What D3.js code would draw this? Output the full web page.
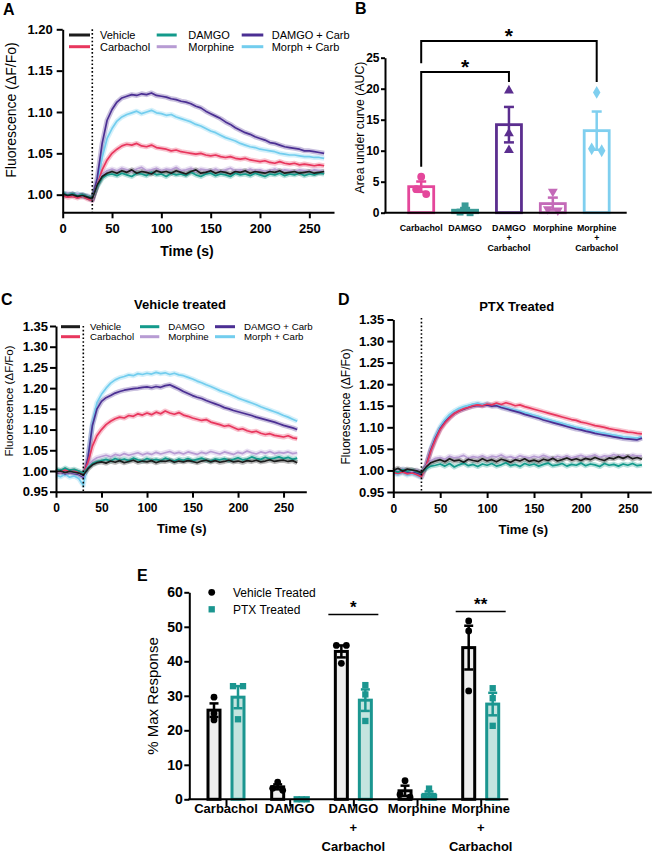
<!DOCTYPE html>
<html><head><meta charset="utf-8">
<script src="https://cdn.jsdelivr.net/npm/d3@7"></script>
<style>
body{margin:0;background:#fff}
svg{display:block}
text{font-family:"Liberation Sans",Arial,Helvetica,sans-serif;fill:#000}
</style></head>
<body><svg id="fig" width="652" height="853"></svg>
<script>
// ---------------- DATA ----------------
const timeS = [0,5,10,15,20,25,30,35,40,45,50,55,60,65,70,75,80,85,90,95,100,105,110,115,120,125,130,135,140,145,150,155,160,165,170,175,180,185,190,195,200,205,210,215,220,225,230,235,240,245,250,255,260,265];
const timeTicks = [0,50,100,150,200,250];
const stimTime = 30;
const seriesNames = ["Vehicle","Carbachol","DAMGO","Morphine","DAMGO + Carb","Morph + Carb"];

// Panel A
const A_vehicle = [1.001,0.999,1.000,0.998,0.999,0.997,0.995,1.012,1.022,1.026,1.028,1.026,1.029,1.027,1.030,1.026,1.028,1.027,1.025,1.029,1.027,1.028,1.026,1.029,1.027,1.025,1.028,1.030,1.026,1.027,1.029,1.026,1.028,1.027,1.025,1.028,1.027,1.029,1.026,1.028,1.027,1.026,1.028,1.027,1.029,1.026,1.027,1.028,1.026,1.027,1.028,1.026,1.027,1.028];
const A_carbachol = [0.999,0.997,0.998,0.996,0.998,0.995,0.993,1.012,1.030,1.042,1.050,1.055,1.059,1.061,1.060,1.062,1.059,1.058,1.060,1.057,1.056,1.055,1.053,1.054,1.052,1.051,1.050,1.049,1.050,1.048,1.047,1.048,1.046,1.045,1.046,1.044,1.043,1.044,1.042,1.041,1.040,1.041,1.039,1.038,1.040,1.038,1.037,1.038,1.036,1.037,1.036,1.035,1.036,1.035];
const A_damgo = [1.002,1.000,1.001,0.999,1.000,0.998,0.996,1.010,1.020,1.024,1.025,1.023,1.026,1.024,1.022,1.026,1.025,1.023,1.027,1.024,1.025,1.022,1.026,1.024,1.025,1.023,1.027,1.024,1.022,1.025,1.026,1.023,1.025,1.024,1.022,1.026,1.024,1.025,1.023,1.026,1.024,1.022,1.025,1.024,1.026,1.023,1.025,1.024,1.026,1.023,1.025,1.024,1.026,1.025];
const A_morphine = [1.000,1.002,0.999,1.001,0.998,0.999,0.994,1.012,1.024,1.029,1.031,1.029,1.032,1.030,1.028,1.031,1.033,1.029,1.030,1.032,1.029,1.031,1.030,1.033,1.029,1.030,1.032,1.028,1.031,1.030,1.029,1.031,1.028,1.030,1.032,1.029,1.030,1.028,1.031,1.029,1.030,1.028,1.029,1.031,1.028,1.030,1.029,1.028,1.030,1.029,1.028,1.030,1.029,1.028];
const A_damgoCarb = [1.000,0.999,1.001,0.998,1.000,0.997,0.994,1.020,1.062,1.090,1.103,1.112,1.117,1.119,1.121,1.120,1.122,1.121,1.123,1.120,1.119,1.118,1.116,1.115,1.113,1.112,1.110,1.107,1.105,1.101,1.098,1.095,1.092,1.088,1.085,1.081,1.078,1.075,1.073,1.070,1.068,1.066,1.063,1.062,1.060,1.058,1.057,1.056,1.055,1.053,1.053,1.052,1.051,1.050];
const A_morphCarb = [1.002,1.000,0.999,1.001,0.998,0.997,0.993,1.015,1.045,1.068,1.080,1.089,1.094,1.097,1.099,1.101,1.098,1.100,1.102,1.099,1.098,1.096,1.097,1.094,1.092,1.090,1.088,1.085,1.083,1.080,1.077,1.075,1.072,1.069,1.067,1.065,1.062,1.060,1.058,1.057,1.055,1.054,1.053,1.052,1.050,1.049,1.048,1.048,1.047,1.046,1.046,1.045,1.045,1.044];

// Panel C (vehicle treated)
const C_vehicle = [0.998,1.000,0.996,0.999,0.997,0.995,0.990,1.005,1.015,1.020,1.022,1.019,1.024,1.021,1.025,1.020,1.023,1.026,1.021,1.024,1.022,1.025,1.020,1.024,1.023,1.026,1.021,1.024,1.022,1.025,1.023,1.020,1.024,1.026,1.022,1.025,1.021,1.023,1.026,1.022,1.024,1.021,1.025,1.023,1.026,1.022,1.024,1.027,1.023,1.025,1.026,1.023,1.025,1.020];
const C_carbachol = [1.000,0.998,1.003,0.999,1.001,0.997,0.992,1.020,1.060,1.085,1.100,1.112,1.120,1.126,1.130,1.128,1.134,1.132,1.138,1.135,1.140,1.136,1.142,1.138,1.145,1.140,1.137,1.141,1.135,1.132,1.128,1.125,1.122,1.124,1.118,1.115,1.112,1.108,1.110,1.105,1.100,1.102,1.097,1.094,1.096,1.091,1.088,1.090,1.086,1.084,1.082,1.085,1.080,1.078];
const C_damgo = [1.005,1.001,1.007,1.002,1.004,1.000,0.995,1.008,1.018,1.022,1.025,1.028,1.024,1.030,1.026,1.029,1.025,1.031,1.027,1.024,1.030,1.026,1.028,1.025,1.031,1.027,1.024,1.029,1.026,1.030,1.025,1.028,1.031,1.026,1.024,1.029,1.027,1.030,1.025,1.028,1.032,1.027,1.029,1.034,1.030,1.028,1.033,1.029,1.031,1.034,1.030,1.033,1.028,1.031];
const C_morphine = [0.996,0.999,0.995,0.998,0.996,0.994,0.988,1.010,1.025,1.032,1.035,1.038,1.034,1.040,1.037,1.042,1.038,1.041,1.044,1.039,1.043,1.040,1.045,1.041,1.044,1.047,1.042,1.045,1.041,1.046,1.043,1.040,1.045,1.042,1.047,1.044,1.041,1.046,1.043,1.040,1.045,1.042,1.048,1.044,1.041,1.046,1.043,1.047,1.042,1.045,1.043,1.046,1.042,1.044];
const C_damgoCarb = [0.995,0.998,0.993,0.997,0.994,0.992,0.985,1.030,1.110,1.150,1.168,1.177,1.182,1.188,1.192,1.195,1.197,1.199,1.200,1.202,1.203,1.201,1.204,1.202,1.206,1.208,1.203,1.198,1.192,1.187,1.182,1.178,1.175,1.170,1.166,1.162,1.158,1.153,1.150,1.146,1.143,1.140,1.137,1.134,1.130,1.127,1.124,1.121,1.118,1.114,1.110,1.107,1.104,1.100];
const C_morphCarb = [0.990,0.986,0.992,0.985,0.988,0.982,0.965,1.025,1.115,1.165,1.185,1.200,1.212,1.220,1.225,1.228,1.232,1.230,1.235,1.233,1.236,1.234,1.238,1.235,1.237,1.233,1.236,1.232,1.230,1.226,1.222,1.217,1.213,1.208,1.204,1.199,1.194,1.190,1.186,1.181,1.176,1.172,1.168,1.164,1.160,1.155,1.151,1.147,1.143,1.139,1.134,1.130,1.125,1.120];

// Panel D (PTX treated)
const D_vehicle = [1.000,1.005,0.998,1.003,1.001,0.999,0.995,1.008,1.018,1.022,1.025,1.020,1.027,1.022,1.024,1.019,1.026,1.023,1.021,1.027,1.022,1.025,1.020,1.026,1.023,1.019,1.025,1.022,1.027,1.021,1.024,1.020,1.026,1.023,1.028,1.022,1.025,1.029,1.024,1.027,1.023,1.028,1.025,1.030,1.026,1.023,1.029,1.027,1.032,1.028,1.033,1.027,1.030,1.026];
const D_carbachol = [0.995,0.993,0.996,0.992,0.994,0.990,0.985,1.010,1.045,1.072,1.095,1.110,1.122,1.132,1.138,1.143,1.146,1.150,1.152,1.150,1.154,1.152,1.156,1.153,1.157,1.154,1.150,1.152,1.148,1.145,1.142,1.139,1.136,1.133,1.130,1.127,1.124,1.121,1.118,1.116,1.112,1.110,1.107,1.104,1.102,1.100,1.097,1.095,1.093,1.091,1.089,1.088,1.086,1.085];
const D_damgo = [1.000,0.996,1.002,0.998,1.001,0.997,0.994,1.004,1.010,1.012,1.015,1.010,1.016,1.008,1.013,1.017,1.011,1.014,1.009,1.015,1.012,1.016,1.010,1.013,1.018,1.011,1.014,1.009,1.016,1.012,1.015,1.010,1.014,1.017,1.011,1.013,1.016,1.010,1.014,1.012,1.017,1.011,1.015,1.013,1.009,1.016,1.012,1.014,1.010,1.015,1.012,1.016,1.011,1.013];
const D_morphine = [1.002,0.999,1.004,1.000,0.998,1.001,0.996,1.010,1.022,1.028,1.030,1.026,1.033,1.029,1.031,1.035,1.028,1.032,1.030,1.034,1.029,1.033,1.031,1.036,1.030,1.032,1.028,1.034,1.031,1.029,1.033,1.030,1.035,1.031,1.028,1.033,1.030,1.034,1.029,1.032,1.035,1.031,1.033,1.036,1.030,1.034,1.032,1.037,1.033,1.035,1.031,1.036,1.033,1.034];
const D_damgoCarb = [0.998,0.996,0.999,0.995,0.997,0.994,0.990,1.012,1.048,1.075,1.097,1.112,1.123,1.132,1.138,1.142,1.146,1.149,1.151,1.150,1.152,1.149,1.150,1.146,1.143,1.140,1.137,1.134,1.130,1.127,1.124,1.121,1.117,1.114,1.111,1.108,1.105,1.102,1.099,1.096,1.094,1.091,1.089,1.086,1.084,1.082,1.080,1.078,1.076,1.074,1.073,1.072,1.071,1.075];
const D_morphCarb = [0.993,0.990,0.994,0.989,0.992,0.988,0.983,1.012,1.050,1.080,1.102,1.118,1.130,1.138,1.144,1.148,1.151,1.154,1.156,1.153,1.155,1.151,1.152,1.148,1.146,1.143,1.140,1.137,1.134,1.131,1.128,1.125,1.121,1.118,1.115,1.112,1.109,1.106,1.103,1.100,1.098,1.095,1.093,1.090,1.088,1.086,1.084,1.082,1.080,1.078,1.077,1.076,1.075,1.078];

const fluorTicksA = [1.00,1.05,1.10,1.15,1.20];
const fluorTicksCD = [0.95,1.00,1.05,1.10,1.15,1.20,1.25,1.30,1.35];

// Panel B (AUC)
const aucCategories = ["Carbachol","DAMGO","DAMGO + Carbachol","Morphine","Morphine + Carbachol"];
const aucCarbachol = [5.8,3.8,3.0];
const aucDAMGO = [1.1,0.1,0.0];
const aucDAMGOCarb = [19.7,12.8,10.1];
const aucMorphine = [3.4,0.6,0.4];
const aucMorphCarb = [19.4,10.3,10.0];
const aucTicks = [0,5,10,15,20,25];

// Panel E (% max response)
const respCategories = ["Carbachol","DAMGO","DAMGO + Carbachol","Morphine","Morphine + Carbachol"];
const vehCarbachol = [29.6,24.9,23.0];
const vehDAMGO = [5.0,3.2,2.6];
const vehDAMGOCarb = [44.6,44.6,39.4];
const vehMorphine = [5.4,1.4,0.6];
const vehMorphCarb = [51.7,48.8,31.4];
const ptxCarbachol = [32.8,32.8,23.2];
const ptxDAMGO = [0,0,0];
const ptxDAMGOCarb = [33.1,30.4,22.7];
const ptxMorphine = [3.1,0.6,0.6];
const ptxMorphCarb = [32.2,29.3,21.3];
const pctTicks = [0,10,20,30,40,50,60];

const catLabelLines = [["Carbachol"],["DAMGO"],["DAMGO","+","Carbachol"],["Morphine"],["Morphine","+","Carbachol"]];

// ---------------- STYLE ----------------
const lineColors = ["#1c1c1c","#e8365d","#139a8b","#b79bd3","#4b2f93","#72cdee"];
const drawOrder = [5,4,1,3,2,0];
const aucColors = ["#e4479b","#3b9c98","#5b2e8f","#c46ab8","#7fcfef"];
const aucShapes = [d3.symbolCircle,d3.symbolSquare,d3.symbolTriangle,d3.symbolTriangle,d3.symbolDiamond];
const aucRot = [0,0,0,180,0];
const svg = d3.select("#fig");

function styleAxis(ax, fs, weight){
  ax.select(".domain").attr("stroke","#000").attr("stroke-width",2);
  ax.selectAll(".tick line").attr("stroke","#000").attr("stroke-width",2);
  ax.selectAll(".tick text").attr("font-size",fs).attr("font-weight",weight||"bold")
    .attr("font-family",'"Liberation Sans",Arial,sans-serif').attr("fill","#000");
}
function label(g,x,y,txt,fs,weight,anchor,rot){
  const t = g.append("text").attr("font-size",fs).attr("font-weight",weight||"normal")
    .attr("text-anchor",anchor||"middle");
  if(rot){ t.attr("transform",`translate(${x},${y}) rotate(${rot})`).attr("dy","0.35em"); }
  else { t.attr("x",x).attr("y",y); }
  t.text(txt); return t;
}

function swarm(vals, yS, r){
  const idx = vals.map((v,i)=>i).sort((a,b)=>vals[b]-vals[a]);
  const offs = vals.map(()=>0);
  const clusters=[]; let cl=[idx[0]];
  for(let k=1;k<idx.length;k++){
    if(Math.abs(yS(vals[idx[k]])-yS(vals[cl[cl.length-1]]))<1.5*r) cl.push(idx[k]);
    else {clusters.push(cl); cl=[idx[k]];}
  }
  clusters.push(cl);
  clusters.forEach(c=>{ if(c.length>1){ const d=10/(c.length-1); c.forEach((j,k)=>offs[j]=(k-(c.length-1)/2)*d);} });
  return offs;
}
const mean = a=>d3.mean(a);
const sem = a=>d3.deviation(a)/Math.sqrt(a.length);

// ---------------- TIME PANELS ----------------
function timePanel(o){
  const g = svg.append("g");
  const x = d3.scaleLinear().domain([0,275]).range([o.x0,o.x1]);
  const y = d3.scaleLinear().domain(o.yDom).range([o.yB,o.yT]);
  const line = d3.line().x((d,i)=>x(timeS[i])).y(d=>y(d));
  drawOrder.forEach(k=>{
    g.append("path").attr("d",line(o.series[k])).attr("fill","none")
      .attr("stroke",lineColors[k]).attr("stroke-opacity",0.3).attr("stroke-width",5).attr("stroke-linejoin","round");
  });
  drawOrder.forEach(k=>{
    g.append("path").attr("d",line(o.series[k])).attr("fill","none")
      .attr("stroke",lineColors[k]).attr("stroke-width",1.7).attr("stroke-linejoin","round");
  });
  g.append("line").attr("x1",x(stimTime)).attr("x2",x(stimTime))
    .attr("y1",o.dotTop).attr("y2",o.yB).attr("stroke","#000").attr("stroke-width",1.6).attr("stroke-dasharray","1.6,2.2");
  const xa = g.append("g").attr("transform",`translate(0,${o.yB})`)
    .call(d3.axisBottom(x).tickValues(timeTicks).tickSize(6).tickSizeOuter(0).tickPadding(o.xPad));
  styleAxis(xa,o.xfs);
  const ya = g.append("g").attr("transform",`translate(${o.x0},0)`)
    .call(d3.axisLeft(y).tickValues(o.yTicks).tickFormat(d3.format(".2f")).tickSize(6).tickSizeOuter(0).tickPadding(o.yPad));
  styleAxis(ya,o.yfs);
  label(g,o.xlab[0],o.xlab[1],"Time (s)",o.xlabFs,"bold");
  label(g,o.ylab[0],o.ylab[1],"Fluorescence (ΔF/Fo)",o.ylabFs,"normal","middle",-90);
  label(g,o.letter[0],o.letter[1],o.letter[2],16,"bold","start");
  if(o.title) label(g,o.title[0],o.title[1],o.title[2],13,"bold");
  if(o.legend){
    const L=o.legend;
    seriesNames.forEach((n,k)=>{
      const col=Math.floor(k/2), row=k%2;
      const yy=L.rows[row];
      g.append("line").attr("x1",L.sw[col][0]).attr("x2",L.sw[col][1]).attr("y1",yy).attr("y2",yy)
        .attr("stroke",lineColors[k]).attr("stroke-width",3);
      label(g,L.tx[col],yy,n,L.fs,"normal","start").attr("dy","0.35em");
    });
  }
}

timePanel({x0:62.7,x1:334,yB:212.3,yT:29.3,yDom:[0.9787,1.2],yTicks:fluorTicksA,dotTop:29.3,
  series:[A_vehicle,A_carbachol,A_damgo,A_morphine,A_damgoCarb,A_morphCarb],
  xPad:5,yPad:4,xfs:13,yfs:13,xlab:[187,256],xlabFs:14,ylab:[11,110],ylabFs:14,letter:[3,15,"A"],
  legend:{rows:[35,46.7],sw:[[69,90],[156.7,176.7],[241.7,263.3]],tx:[100,188.3,271.7],fs:11}});

timePanel({x0:56,x1:306.3,yB:491.7,yT:326,yDom:[0.95,1.35],yTicks:fluorTicksCD,dotTop:326,
  series:[C_vehicle,C_carbachol,C_damgo,C_morphine,C_damgoCarb,C_morphCarb],
  xPad:6,yPad:2,xfs:12,yfs:13,xlab:[181.7,533],xlabFs:13,ylab:[9,401],ylabFs:11.5,letter:[1,305,"C"],
  title:[180,309,"Vehicle treated"],
  legend:{rows:[326.7,336.7],sw:[[61,80],[140,159.3],[215,235]],tx:[90,168.3,244],fs:9.7}});

timePanel({x0:393.3,x1:651.3,yB:492,yT:319.5,yDom:[0.95,1.35],yTicks:fluorTicksCD,dotTop:318,
  series:[D_vehicle,D_carbachol,D_damgo,D_morphine,D_damgoCarb,D_morphCarb],
  xPad:6,yPad:3,xfs:12,yfs:13,xlab:[523.3,534],xlabFs:13,ylab:[346,406.5],ylabFs:12,letter:[338,305,"D"],
  title:[516.7,311,"PTX Treated"]});

// ---------------- PANEL B ----------------
(function(){
  const g = svg.append("g");
  const x = d3.scalePoint().domain(aucCategories).range([421.2,596.7]);
  const y = d3.scaleLinear().domain([0,25]).range([212.7,57.7]);
  const groups = [aucCarbachol,aucDAMGO,aucDAMGOCarb,aucMorphine,aucMorphCarb];
  const bw = 25;
  groups.forEach((vals,i)=>{
    const cx=x(aucCategories[i]), m=mean(vals), s=sem(vals), c=aucColors[i];
    g.append("rect").attr("x",cx-bw/2).attr("width",bw).attr("y",y(m)).attr("height",y(0)-y(m))
      .attr("fill","#fff").attr("stroke",c).attr("stroke-width",2.8);
    g.append("line").attr("x1",cx).attr("x2",cx).attr("y1",y(m-s)).attr("y2",y(m+s)).attr("stroke",c).attr("stroke-width",2.5);
    [m-s,m+s].forEach(v=>g.append("line").attr("x1",cx-5).attr("x2",cx+5).attr("y1",y(v)).attr("y2",y(v)).attr("stroke",c).attr("stroke-width",2.5));
    const offs = swarm(vals,y,3.8);
    vals.forEach((v,j)=>{
      g.append("path").attr("d",d3.symbol().type(aucShapes[i]).size(i===2||i===3?42:48)())
        .attr("transform",`translate(${cx+offs[j]},${y(v)}) rotate(${aucRot[i]})`).attr("fill",c);
    });
  });
  const ya = g.append("g").attr("transform","translate(385,0)")
    .call(d3.axisLeft(y).tickValues(aucTicks).tickSize(4).tickSizeOuter(0).tickPadding(1.5));
  styleAxis(ya,12);
  g.append("line").attr("x1",384).attr("x2",626.7).attr("y1",y(0)).attr("y2",y(0)).attr("stroke","#000").attr("stroke-width",2);
  aucCategories.forEach((c,i)=>{
    catLabelLines[i].forEach((t,k)=>label(g,x(c),230.5+k*10,t,8.8,"bold"));
  });
  label(g,360,127.5,"Area under curve (AUC)",12.3,"normal","middle",-90);
  label(g,355,14,"B",16,"bold","start");
  // significance brackets (level, arm bottoms in data units)
  const comps = [{a:0,b:2,lvl:22.7,armA:7.4,armB:21.1},{a:0,b:4,lvl:27.7,armA:24.1,armB:21.1}];
  comps.forEach(cp=>{
    const xa=x(aucCategories[cp.a]), xb=x(aucCategories[cp.b]);
    g.append("path").attr("d",`M${xa},${y(cp.armA)}V${y(cp.lvl)}H${xb}V${y(cp.armB)}`)
      .attr("fill","none").attr("stroke","#000").attr("stroke-width",2);
    label(g,(xa+xb)/2,y(cp.lvl)-10+0.57*21,"*",21,"bold");
  });
})();

// ---------------- PANEL E ----------------
(function(){
  const g = svg.append("g");
  const x = d3.scalePoint().domain(respCategories).range([226,480.7]);
  const y = d3.scaleLinear().domain([0,60]).range([799.3,592.3]);
  const veh = [vehCarbachol,vehDAMGO,vehDAMGOCarb,vehMorphine,vehMorphCarb];
  const ptx = [ptxCarbachol,ptxDAMGO,ptxDAMGOCarb,ptxMorphine,ptxMorphCarb];
  const sets = [{data:veh,off:-12,stroke:"#000",fill:"#efefef",shape:d3.symbolCircle,size:36},
                {data:ptx,off:12,stroke:"#1b9690",fill:"#c4e4df",shape:d3.symbolSquare,size:40}];
  const bw=12;
  sets.forEach(st=>{
    st.data.forEach((vals,i)=>{
      const cx=x(respCategories[i])+st.off, m=mean(vals), s=sem(vals);
      g.append("rect").attr("x",cx-bw/2).attr("width",bw).attr("y",y(m)).attr("height",y(0)-y(m))
        .attr("fill",st.fill).attr("stroke",st.stroke).attr("stroke-width",3);
      if(s>0){
        g.append("line").attr("x1",cx).attr("x2",cx).attr("y1",y(m-s)).attr("y2",y(m+s)).attr("stroke",st.stroke).attr("stroke-width",2.5);
        [m-s,m+s].forEach(v=>g.append("line").attr("x1",cx-4.5).attr("x2",cx+4.5).attr("y1",y(v)).attr("y2",y(v)).attr("stroke",st.stroke).attr("stroke-width",2.5));
      }
      const offs = swarm(vals,y,3.4);
      vals.forEach((v,j)=>{
        g.append("path").attr("d",d3.symbol().type(st.shape).size(st.size)())
          .attr("transform",`translate(${cx+offs[j]},${y(v)})`).attr("fill",st.stroke);
      });
    });
  });
  const ya = g.append("g").attr("transform","translate(189.3,0)")
    .call(d3.axisLeft(y).tickValues(pctTicks).tickSize(5).tickSizeOuter(0).tickPadding(1.5));
  styleAxis(ya,14);
  const xa = g.append("g").attr("transform",`translate(0,${y(0)})`)
    .call(d3.axisBottom(x).tickSize(7).tickSizeOuter(0).tickFormat(""));
  styleAxis(xa,13);
  xa.select(".domain").attr("d",`M188.3,0H508.3`);
  respCategories.forEach((c,i)=>{
    catLabelLines[i].forEach((t,k)=>label(g,x(c),813+k*19,t,13,"bold"));
  });
  label(g,153,696,"% Max Response",15,"normal","middle",-90);
  label(g,137,581,"E",16,"bold","start");
  // legend
  g.append("path").attr("d",d3.symbol().type(d3.symbolCircle).size(36)()).attr("transform","translate(211.7,592.3)").attr("fill","#000");
  g.append("path").attr("d",d3.symbol().type(d3.symbolSquare).size(40)()).attr("transform","translate(211.7,609.3)").attr("fill","#1b9690");
  label(g,233,592.3,"Vehicle Treated",12,"normal","start").attr("dy","0.35em");
  label(g,233,609.3,"PTX Treated",12,"normal","start").attr("dy","0.35em");
  // significance
  const sig = [{c:2,lvl:53.6,txt:"*"},{c:4,lvl:54.4,txt:"**"}];
  sig.forEach(s=>{
    const cx=x(respCategories[s.c]);
    g.append("line").attr("x1",cx-25).attr("x2",cx+25).attr("y1",y(s.lvl)).attr("y2",y(s.lvl)).attr("stroke","#000").attr("stroke-width",1.5);
    label(g,cx,y(s.lvl)-11+0.57*17,s.txt,17,"bold");
  });
})();
</script></body></html>
